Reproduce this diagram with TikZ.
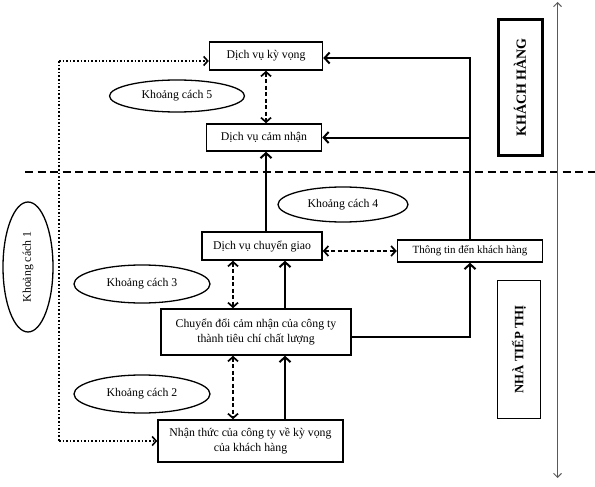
\documentclass[tikz,border=0pt]{standalone}
\usepackage{fontspec}
\setmainfont{Liberation Serif}
\usetikzlibrary{arrows.meta,shapes.geometric,calc}
\begin{document}
\begin{tikzpicture}[x=1pt,y=-1pt,
  txt/.style={font=\fontsize{11.8}{14.5}\selectfont},
  box/.style={txt,draw,line width=1.5pt,inner sep=0pt,align=center,anchor=center},
  ell/.style={txt,draw,ellipse,line width=1.3pt,inner sep=0pt,anchor=center},
  arr/.style={line width=2pt,-{Straight Barb[length=5pt,width=11pt]}},
  darr/.style={line width=1.7pt,dash pattern=on 4pt off 2.5pt,{Straight Barb[length=4.5pt,width=10pt]}-{Straight Barb[length=4.5pt,width=10pt]}},
  dotarr/.style={line width=1.6pt,dotted,-{Straight Barb[length=4pt,width=9pt]}},
  sidebox/.style={draw,inner sep=0pt,anchor=center,font=\fontsize{13}{15}\selectfont\bfseries}
]
\useasboundingbox (0,0) rectangle (595,487);
% boxes
\node[box,minimum width=113pt,minimum height=28pt] (kv) at (266,56) {Dịch vụ kỳ vọng};
\node[box,minimum width=115pt,minimum height=27pt] (cn) at (264,137.5) {Dịch vụ cảm nhận};
\node[box,minimum width=120pt,minimum height=28pt] (cg) at (262,246) {Dịch vụ chuyển giao};
\node[box,minimum width=145pt,minimum height=22pt,font=\fontsize{11}{12}\selectfont] (tt) at (470,251) {Thông tin đến khách hàng};
\node[box,minimum width=190pt,minimum height=46pt] (cd) at (256,332) {Chuyển đổi cảm nhận của công ty\\thành tiêu chí chất lượng};
\node[box,minimum width=185pt,minimum height=42pt] (nt) at (250.5,441) {Nhận thức của công ty về kỳ vọng\\của khách hàng};
% side boxes
\node[sidebox,line width=3pt,minimum width=44pt,minimum height=135pt,font=\fontsize{14}{16}\selectfont\bfseries] (kh) at (520,87.5) {\rotatebox{90}{KHÁCH HÀNG}};
\node[sidebox,line width=1.7pt,minimum width=43pt,minimum height=138pt,font=\fontsize{12.8}{15}\selectfont\bfseries] (ntt) at (519,349.5) {\rotatebox{90}{NHÀ TIẾP THỊ}};
% ellipses
\node[ell,minimum width=135pt,minimum height=32pt] (e5) at (177,96) {Khoảng cách 5};
\node[ell,minimum width=130pt,minimum height=35pt] (e4) at (343,204.5) {Khoảng cách 4};
\node[ell,minimum width=136pt,minimum height=38pt] (e3) at (142,284) {Khoảng cách 3};
\node[ell,minimum width=136pt,minimum height=38pt] (e2) at (142,394) {Khoảng cách 2};
\node[ell,minimum width=130pt,minimum height=50pt,rotate=90] (e1) at (28,267) {Khoảng cách 1};
% helper coordinates
\coordinate (dx) at (233,0);
\coordinate (sx) at (285,0);
\coordinate (dl) at (59,0);
\coordinate (hl) at (25,172);
\coordinate (hr) at (595,172);
\coordinate (va) at (557.5,2);
\coordinate (vb) at (557.5,478);
\coordinate (k1) at ($(kv.west)+(0,5)$);
\coordinate (c1) at ($(cd.east)+(0,5)$);
% horizontal dashed separator
\draw[line width=2.3pt,dash pattern=on 8pt off 4.5pt] (hl) -- (hr);
% vertical axis
\draw[line width=1pt,black!65,{Straight Barb[length=4pt,width=8pt]}-{Straight Barb[length=4pt,width=8pt]}] (va) -- (vb);
% dashed double arrows
\draw[darr] (kv.south) -- (kv.south |- cn.north);
\draw[darr] (tt.west -| cg.east) -- (tt.west);
\draw[darr] (cg.south -| dx) -- (cd.north -| dx);
\draw[darr] (cd.south -| dx) -- (nt.north -| dx);
% solid arrows
\draw[arr] (cg.north -| kv.south) -- (cn.south -| kv.south);
\draw[arr] (cd.north -| sx) -- (cg.south -| sx);
\draw[arr] (nt.north -| sx) -- (cd.south -| sx);
\draw[arr] (tt.north) |- ($(kv.east)+(0,2)$);
\draw[arr] (tt.north |- cn.east) -- (cn.east);
\draw[arr] (c1) -| (tt.south);
% dotted
\draw[line width=1.6pt,dotted] (k1 -| dl) -- (nt.west -| dl);
\draw[dotarr] (k1 -| dl) -- (k1);
\draw[dotarr] (nt.west -| dl) -- (nt.west);
\end{tikzpicture}
\end{document}
